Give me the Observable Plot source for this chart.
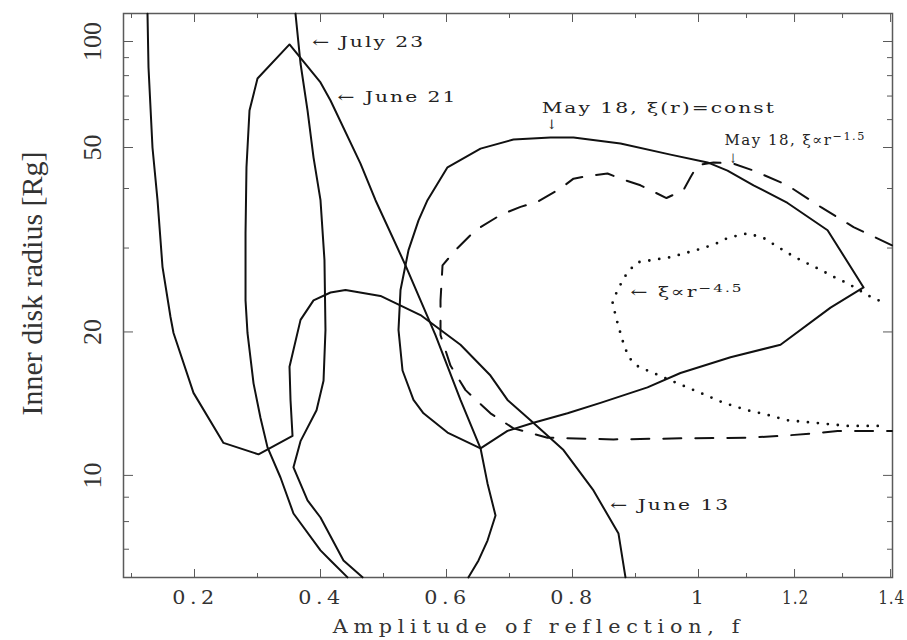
<!DOCTYPE html>
<html>
<head>
<meta charset="utf-8">
<script src="https://cdn.jsdelivr.net/npm/d3@7"></script>
<script src="https://cdn.jsdelivr.net/npm/@observablehq/plot@0.6"></script>
<style>
  body { margin: 0; background: #fff; }
  g[aria-description="x-tick-labels"] text { letter-spacing: 4px; }
  g[aria-description="x-title"] text { letter-spacing: 5px; }
  g[aria-description^="notes"] text { letter-spacing: 1.5px; }
</style>
</head>
<body>
<div id="chart"></div>
<script>
// Confidence contours: amplitude of reflection f against inner disk radius (Rg).
// Each contour is a list of [f, radius] vertices.
const june13 = [
  [0.1254, 120], [0.127, 84.4], [0.1333, 50], [0.1413, 37.8], [0.1492, 27.4], [0.1619, 21.5],
  [0.1667, 19.9], [0.1984, 14.9], [0.246, 11.7], [0.3016, 11.07], [0.3556, 12.1], [0.3524, 14.4],
  [0.3508, 16.9], [0.3683, 21.2], [0.3889, 23.3], [0.4159, 24.2], [0.4397, 24.5], [0.4952, 23.8],
  [0.5587, 21.7], [0.6222, 18.8], [0.6698, 16.2], [0.6968, 14.4], [0.7333, 13.05], [0.7857, 11.3],
  [0.8333, 9.3], [0.873, 7.55], [0.8841, 6.11]
];
const june21 = [
  [0.4429, 6.11], [0.4159, 6.63], [0.4, 6.96], [0.3571, 8.32], [0.3365, 9.9], [0.3159, 11.45],
  [0.3048, 13.2], [0.2937, 15.6], [0.2841, 19.9], [0.281, 23.3], [0.281, 32.2], [0.2825, 44.9],
  [0.2873, 63.7], [0.3, 78.5], [0.3508, 98.1], [0.4, 76.5], [0.4159, 68.0], [0.4635, 45.8],
  [0.4873, 37.8], [0.5349, 27.6], [0.5825, 19.7], [0.6222, 14.4], [0.654, 11.4], [0.6651, 9.62],
  [0.6778, 8.24], [0.6651, 7.3], [0.6508, 6.63], [0.6349, 6.11]
];
const july23 = [
  [0.3603, 120], [0.3683, 86.6], [0.3794, 63.7], [0.3889, 47.4], [0.4, 37.8], [0.4063, 28.3],
  [0.4079, 20.2], [0.4048, 15.8], [0.3937, 13.7], [0.3683, 11.8], [0.3571, 10.4], [0.3794, 8.86],
  [0.4, 8.16], [0.4365, 6.63], [0.4667, 6.11]
];
// May 18, ionisation constant with radius (closed contour)
const may18Const = [
  [0.654, 11.4], [0.6016, 12.3], [0.5635, 13.5], [0.5476, 14.4], [0.5302, 16.6], [0.5238, 20.2],
  [0.527, 24.5], [0.5397, 29.7], [0.5556, 34.3], [0.5698, 37.8], [0.6016, 44.9], [0.654, 49.7],
  [0.7063, 52.7], [0.7651, 53.4], [0.8016, 53.4], [0.8762, 51.3], [0.9556, 48.1], [1.0188, 46.1],
  [1.0604, 44.1], [1.1146, 40.7], [1.1854, 37.3], [1.2688, 32.7], [1.3438, 24.8], [1.275, 22.5],
  [1.1708, 18.8], [1.0667, 17.7], [0.9714, 16.4], [0.919, 15.3], [0.8444, 14.2], [0.7921, 13.5],
  [0.7381, 12.9], [0.6968, 12.4], [0.654, 11.4]
];
// May 18, ionisation falling as r^-1.5
const may18Pow15 = [
  [1.403, 30.4], [1.3229, 33.2], [1.2542, 36.6], [1.1854, 40.7], [1.1146, 44.1], [1.0729, 45.8],
  [1.0313, 46.1], [0.9984, 45.4], [0.9873, 42.5], [0.9762, 39.7], [0.9492, 38.2], [0.9079, 40.7],
  [0.8762, 42.2], [0.8556, 43.4], [0.8286, 42.9], [0.8016, 42.2], [0.781, 40.0], [0.7444, 37.5],
  [0.7175, 36.6], [0.6857, 35.2], [0.646, 32.7], [0.6143, 29.7], [0.5937, 27.6], [0.5905, 23.3],
  [0.5905, 19.7], [0.6063, 17.0], [0.6302, 15.1], [0.6698, 13.5], [0.7063, 12.55], [0.7603, 12.0],
  [0.8651, 11.9], [0.9714, 11.96], [1.1021, 12.0], [1.1708, 12.1], [1.2396, 12.25], [1.2896, 12.4],
  [1.403, 12.4]
];
// May 18, ionisation falling as r^-4.5
const may18Pow45 = [
  [1.375, 23.3], [1.3583, 23.7], [1.3104, 25.3], [1.2813, 26.1], [1.2542, 27.0], [1.2125, 28.3],
  [1.1854, 29.3], [1.1354, 31.5], [1.1021, 32.2], [1.0604, 31.5], [1.0458, 30.9], [1.0104, 30.0],
  [0.9556, 28.7], [0.9032, 28.0], [0.8873, 26.7], [0.8714, 24.5], [0.8635, 23.0], [0.8714, 20.9],
  [0.8794, 19.2], [0.8889, 17.7], [0.9048, 16.9], [0.9286, 16.4], [0.9667, 15.6], [1.0042, 14.9],
  [1.0521, 14.2], [1.1021, 13.7], [1.1438, 13.4], [1.1854, 13.05], [1.2396, 12.9], [1.3104, 12.7],
  [1.3792, 12.7]
];

// Annotations placed at [f, radius]; "^" starts a superscript.
const labels = [
  {f: 0.387, r: 99.3, text: "← July 23"},
  {f: 0.427, r: 69.3, text: "← June 21"},
  {f: 0.860, r: 8.65, text: "← June 13"},
  {f: 0.751, r: 64.5, text: "May 18, ξ(r)=const"},
  {f: 1.054, r: 52.3, text: "May 18, ξ∝r^−1.5"},
  {f: 0.892, r: 24.2, text: "← ξ∝r^−4.5"}
];
const arrows = [
  {f: 0.768, r: 58.0, text: "↓"},
  {f: 1.073, r: 47.0, text: "↓"}
];

// Axis ticks
const xMajor = [0.2, 0.4, 0.6, 0.8, 1.0, 1.2, 1.4];
const xMinor = [0.1, 0.3, 0.5, 0.7, 0.9, 1.1, 1.3];
const xLabels = ["0.2", "0.4", "0.6", "0.8", "1", "1.2", "1.4"];
const yMajor = [10, 20, 50, 100];
const yMinor = [7, 8, 9, 30, 40, 60, 70, 80, 90];
const yLabels = ["10", "20", "50", "100"];

const ink = "#111";
const frameInk = "#5a5a5a";
const serifWide = "DejaVu Serif";
const serifNarrow = "Liberation Serif";

const fx = d => d[0], fy = d => d[1];

const chart = Plot.plot({
  width: 907,
  height: 640,
  marginLeft: 123,
  marginRight: 15,
  marginTop: 13,
  marginBottom: 63,
  x: {type: "linear", domain: [0.0873, 1.0, 1.404], range: [123, 698, 892]},
  y: {type: "log", domain: [6.106, 40, 50, 120.1], range: [577, 188, 147, 13]},
  marks: [
    // inward ticks on all four sides
    Plot.axisX(xMajor, {anchor: "bottom", tickSize: -8, tickFormat: () => "", label: null, color: frameInk}),
    Plot.axisX(xMinor, {anchor: "bottom", tickSize: -4, tickFormat: () => "", label: null, color: frameInk}),
    Plot.axisX(xMajor, {anchor: "top", tickSize: -8, tickFormat: () => "", label: null, color: frameInk}),
    Plot.axisX(xMinor, {anchor: "top", tickSize: -4, tickFormat: () => "", label: null, color: frameInk}),
    Plot.axisY(yMajor, {anchor: "left", tickSize: -10, tickFormat: () => "", label: null, color: frameInk}),
    Plot.axisY(yMinor, {anchor: "left", tickSize: -6, tickFormat: () => "", label: null, color: frameInk}),
    Plot.axisY(yMajor, {anchor: "right", tickSize: -10, tickFormat: () => "", label: null, color: frameInk}),
    Plot.axisY(yMinor, {anchor: "right", tickSize: -6, tickFormat: () => "", label: null, color: frameInk}),
    Plot.frame({stroke: frameInk, strokeWidth: 1.5}),

    // tick labels and axis titles
    Plot.text(xMajor, {x: d => d, text: (d, i) => xLabels[i], frameAnchor: "bottom", dy: 21, dx: 1,
      textAnchor: "middle", lineAnchor: "middle",
      fontFamily: serifWide, fontSize: 18, fill: "#333", ariaDescription: "x-tick-labels"}),
    Plot.text(yMajor, {y: d => d, text: (d, i) => yLabels[i], frameAnchor: "left", dx: -31, rotate: -90,
      textAnchor: "middle", lineAnchor: "middle",
      fontFamily: serifNarrow, fontSize: 26, fill: "#333"}),
    Plot.text(["Amplitude of reflection, f"], {frameAnchor: "bottom", dy: 50, dx: 31,
      textAnchor: "middle", lineAnchor: "middle",
      fontFamily: serifWide, fontSize: 18, fill: "#333", ariaDescription: "x-title"}),
    Plot.text(["Inner disk radius [Rg]"], {frameAnchor: "left", dx: -91, dy: -12, rotate: -90,
      textAnchor: "middle", lineAnchor: "middle",
      fontFamily: serifNarrow, fontSize: 30, fill: "#333"}),

    // contours
    Plot.line(june13, {x: fx, y: fy, stroke: ink, strokeWidth: 2}),
    Plot.line(june21, {x: fx, y: fy, stroke: ink, strokeWidth: 2}),
    Plot.line(july23, {x: fx, y: fy, stroke: ink, strokeWidth: 2}),
    Plot.line(may18Const, {x: fx, y: fy, stroke: ink, strokeWidth: 2}),
    Plot.line(may18Pow15, {x: fx, y: fy, stroke: ink, strokeWidth: 2, strokeDasharray: "18 14"}),
    Plot.line(may18Pow45, {x: fx, y: fy, stroke: ink, strokeWidth: 2.8, strokeDasharray: "0 10", strokeLinecap: "round"}),

    // annotations
    Plot.text(labels, {x: "f", y: "r", text: "text", textAnchor: "start", lineAnchor: "middle",
      fontFamily: serifWide, fontSize: 15, fill: "#222", ariaDescription: "notes"}),
    Plot.text(arrows, {x: "f", y: "r", text: "text", textAnchor: "middle", lineAnchor: "middle",
      fontFamily: serifWide, fontSize: 13, fill: "#222", ariaDescription: "notes-arrows"})
  ]
});

const ns = "http://www.w3.org/2000/svg";

// turn "^" into a raised, smaller tspan
chart.querySelectorAll("text").forEach(t => {
  const s = t.textContent;
  const i = s.indexOf("^");
  if (i < 0) return;
  t.textContent = "";
  const base = document.createElementNS(ns, "tspan");
  base.textContent = s.slice(0, i);
  const sup = document.createElementNS(ns, "tspan");
  sup.textContent = s.slice(i + 1);
  sup.setAttribute("dy", "-0.45em");
  sup.setAttribute("font-size", "75%");
  t.append(base, sup);
});

// the lettering is a broad typewriter face: widen the serif glyphs horizontally,
// a little less (and tighter) on the compressed stretch of the axis beyond f = 1
const breakPx = 698;
function widen(group, factor, tightSpacing) {
  chart.querySelectorAll(`g[aria-description="${group}"] text`).forEach(t => {
    const tr = t.getAttribute("transform") || "";
    const m = /translate\(\s*([-\d.e]+)[ ,]+([-\d.e]+)\s*\)/.exec(tr);
    let x, y;
    if (m) { x = +m[1]; y = +m[2]; }
    else { x = +(t.getAttribute("x") || 0); y = +(t.getAttribute("y") || 0); }
    const right = x > breakPx;
    const s = factor * (right ? 0.74 : 1);
    if (right && tightSpacing != null) t.style.letterSpacing = `${tightSpacing}px`;
    if (m) t.setAttribute("transform", `${tr} scale(${s},1)`);
    else t.setAttribute("transform", `${tr} translate(${x},${y}) scale(${s},1) translate(${-x},${-y})`);
  });
}
widen("x-tick-labels", 1.15, 1);
widen("x-title", 1.15);
widen("notes", 1.35);
widen("notes-arrows", 1.0);

document.getElementById("chart").append(chart);
</script>
</body>
</html>
